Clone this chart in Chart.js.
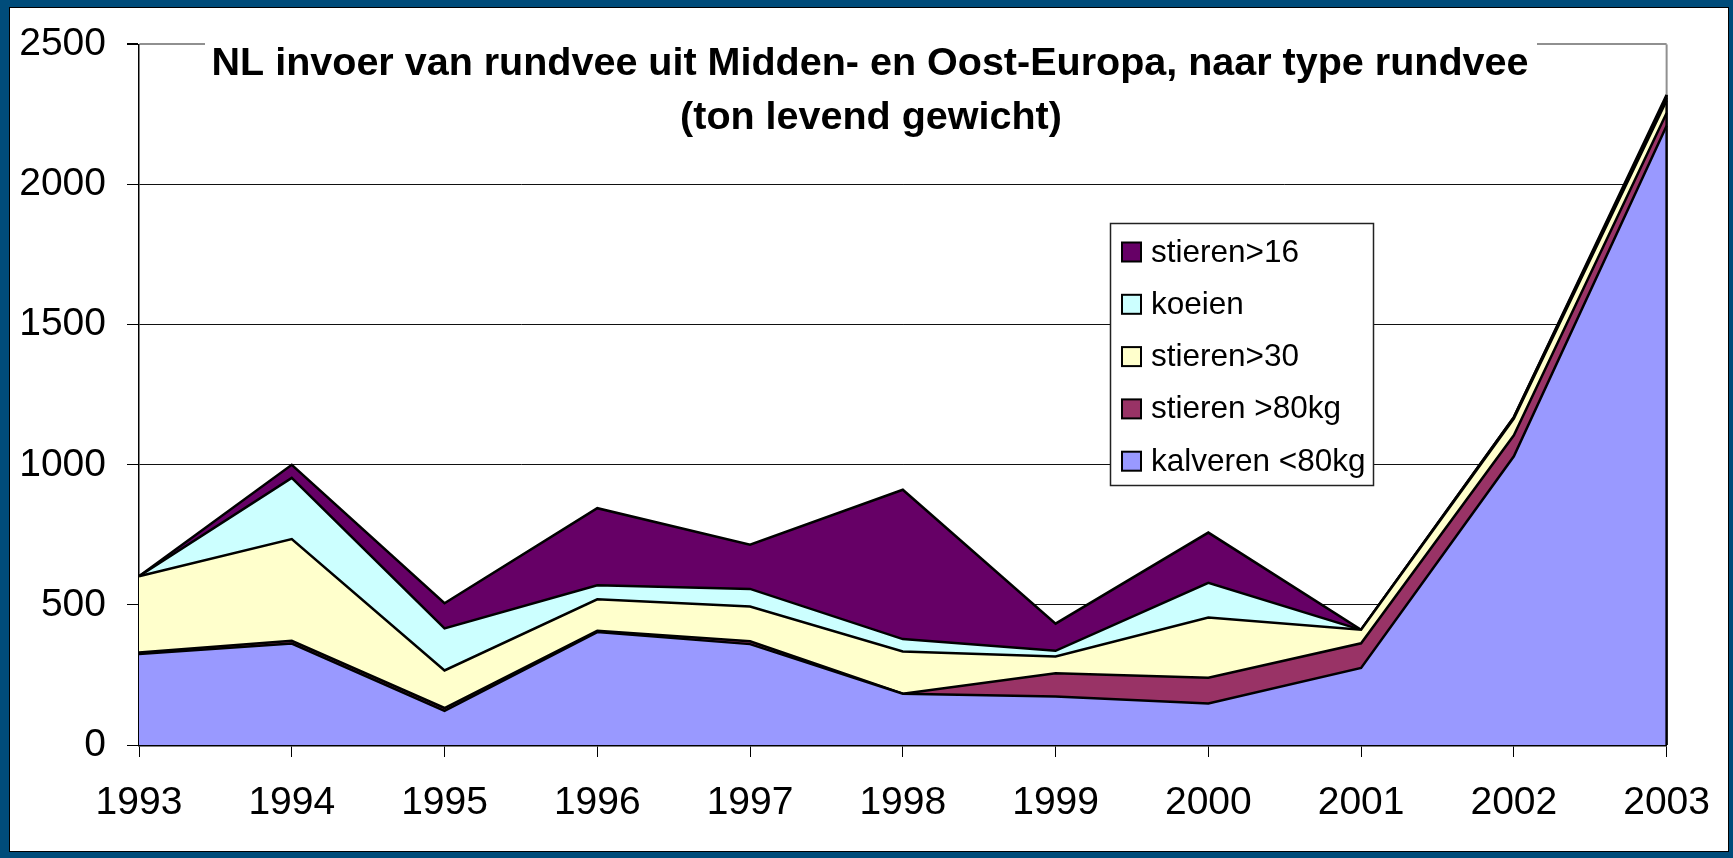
<!DOCTYPE html>
<html>
<head>
<meta charset="utf-8">
<script src="https://cdn.jsdelivr.net/npm/chart.js@4/dist/chart.umd.min.js"></script>
<style>
	html, body { margin: 0; padding: 0; }
	body { width: 1733px; height: 858px; background: #004c7a; position: relative; overflow: hidden; }
	#panel { position: absolute; left: 9px; top: 7px; width: 1718px; height: 843px; background: #fff; border: 1px solid #000; }
	#wrap { position: absolute; left: 0; top: 0; width: 1733px; height: 858px; }
</style>
</head>
<body>
<div id="panel"></div>
<div id="wrap"><canvas id="chart-rundvee"></canvas></div>
<script>
// Data (ton levend gewicht)
const YEARS = ["1993", "1994", "1995", "1996", "1997", "1998", "1999", "2000", "2001", "2002", "2003"];
const KALVEREN_80 = [325, 362, 122, 403, 360, 183, 173, 148, 275, 1030, 2210];
const STIEREN_80KG = [5, 10, 10, 5, 10, 0, 83, 92, 88, 75, 45];
const STIEREN_30 = [272, 363, 134, 112, 124, 151, 60, 215, 48, 60, 45];
const KOEIEN = [0, 218, 150, 50, 63, 44, 20, 124, 0, 5, 10];
const STIEREN_16 = [0, 47, 90, 275, 158, 533, 97, 179, 0, 0, 10];
const Y_TICKS = [0, 500, 1000, 1500, 2000, 2500];

const TITLE_LINES = [
	"NL invoer van rundvee uit Midden- en Oost-Europa, naar type rundvee",
	"(ton levend gewicht)",
];
const FONT = "'Liberation Sans', Arial, sans-serif";

const area = (label, data, color, index) => ({
	label: label,
	data: data,
	fill: index === 0 ? "origin" : "-1",
	backgroundColor: color,
	borderColor: "#000",
	borderWidth: 2.5,
	borderJoinStyle: "miter",
	pointRadius: 0,
	tension: 0,
});

const CHART_DATA = {
	labels: YEARS,
	datasets: [
		area("kalveren <80kg", KALVEREN_80, "#9999ff", 0),
		area("stieren >80kg", STIEREN_80KG, "#993366", 1),
		area("stieren>30", STIEREN_30, "#ffffcc", 2),
		area("koeien", KOEIEN, "#ccffff", 3),
		area("stieren>16", STIEREN_16, "#660066", 4),
	],
};

// plot frame, title box and legend box drawn over the plot
const overlayPlugin = {
	id: "overlay",
	afterDatasetsDraw(chart) {
		const { ctx, chartArea, scales } = chart;
		const last = YEARS.length - 1;
		const total = chart.data.datasets.reduce((s, d) => s + d.data[last], 0);
		const yTop = scales.y.getPixelForValue(total);

		ctx.save();
		// right edge of plot
		ctx.lineWidth = 2;
		ctx.strokeStyle = "#909090";
		ctx.beginPath();
		ctx.moveTo(chartArea.right, chartArea.top);
		ctx.lineTo(chartArea.right, yTop);
		ctx.stroke();
		ctx.strokeStyle = "#000";
		ctx.lineWidth = 2.5;
		ctx.beginPath();
		ctx.moveTo(chartArea.right, yTop);
		ctx.lineTo(chartArea.right, chartArea.bottom);
		ctx.stroke();

		// title
		ctx.fillStyle = "#fff";
		ctx.fillRect(205, 30, 1332, 115);
		ctx.fillStyle = "#000";
		ctx.font = "bold 39.5px " + FONT;
		ctx.textAlign = "center";
		ctx.textBaseline = "alphabetic";
		ctx.fillText(TITLE_LINES[0], 870, 75);
		ctx.fillText(TITLE_LINES[1], 871, 129);

		// legend
		const lx = 1110, ly = 223, lw = 263, lh = 262;
		ctx.fillStyle = "#fff";
		ctx.fillRect(lx, ly, lw, lh);
		ctx.lineWidth = 1.5;
		ctx.strokeStyle = "#222";
		ctx.strokeRect(lx + 0.5, ly + 0.5, lw, lh);
		ctx.font = "31.5px " + FONT;
		ctx.textAlign = "left";
		const items = chart.data.datasets.slice().reverse();
		items.forEach((ds, i) => {
			const cy = 252 + i * 52.3;
			ctx.fillStyle = ds.backgroundColor;
			ctx.fillRect(1122, cy - 9.5, 19, 19);
			ctx.lineWidth = 2;
			ctx.strokeStyle = "#000";
			ctx.strokeRect(1122, cy - 9.5, 19, 19);
			ctx.fillStyle = "#000";
			ctx.fillText(ds.label, 1151, cy + 9.5);
		});
		ctx.restore();
	},
};

const CHART_CONFIG = {
	type: "line",
	data: CHART_DATA,
	plugins: [overlayPlugin],
	options: {
		responsive: true,
		maintainAspectRatio: false,
		animation: false,
		events: [],
		layout: {
			padding: { left: 0, right: 56, top: 40, bottom: 0 },
		},
		scales: {
			x: {
				offset: false,
				border: { color: "#000", width: 2.5 },
				grid: {
					drawOnChartArea: false,
					drawTicks: true,
					tickLength: 12,
					color: "#000",
					lineWidth: 1,
				},
				ticks: {
					color: "#000",
					font: { family: FONT, size: 39 },
					padding: 23,
					maxRotation: 0,
					autoSkip: false,
				},
				afterFit: (scale) => {
					scale.height = 113;
				},
			},
			y: {
				stacked: true,
				min: Y_TICKS[0],
				max: Y_TICKS[Y_TICKS.length - 1],
				border: { color: "#000", width: 1.5 },
				grid: {
					color: (c) => (c.tick && c.tick.value === 2500 ? "#909090" : "#111"),
					lineWidth: (c) => (c.tick && c.tick.value === 2500 ? 2 : 1),
					tickColor: "#000",
					tickLength: 12,
				},
				afterBuildTicks: (scale) => {
					scale.ticks = Y_TICKS.map((v) => ({ value: v }));
				},
				ticks: {
					color: "#000",
					font: { family: FONT, size: 39 },
					padding: 21,
					callback: (value) => String(value),
				},
				afterFit: (scale) => {
					scale.width = 139;
				},
			},
		},
		plugins: {
			legend: { display: false },
			title: { display: false },
			tooltip: { enabled: false },
		},
	},
};

new Chart(document.getElementById("chart-rundvee"), CHART_CONFIG);
</script>
</body>
</html>
